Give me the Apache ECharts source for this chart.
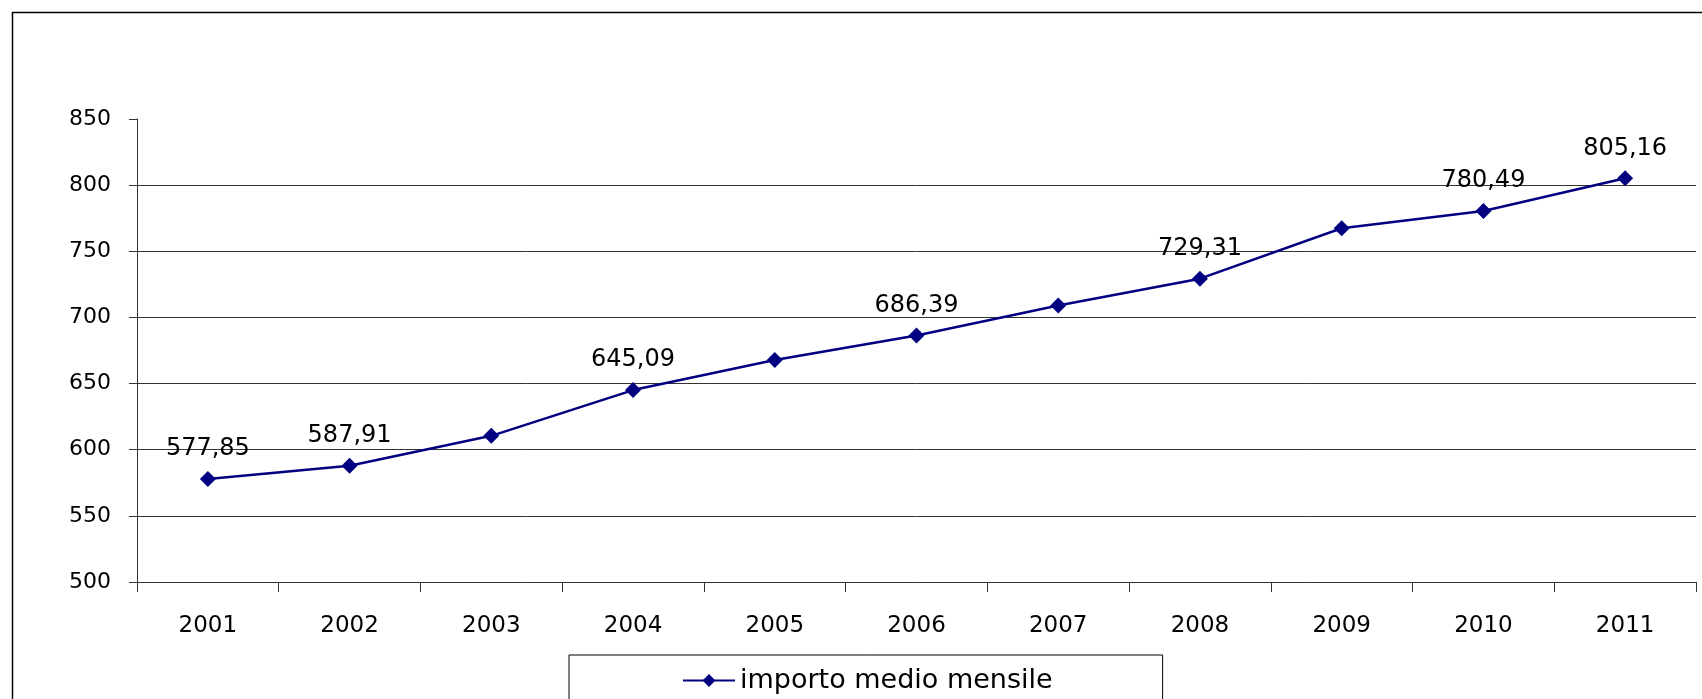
<!DOCTYPE html>
<html>
<head>
<meta charset="utf-8">
<script src="https://cdn.jsdelivr.net/npm/echarts@6/dist/echarts.min.js"></script>
<style>
  html, body { margin: 0; padding: 0; background: #fff; }
  #chart { width: 1702px; height: 699px; }
</style>
</head>
<body>
<div id="chart"></div>
<script>
const years = ['2001', '2002', '2003', '2004', '2005', '2006', '2007', '2008', '2009', '2010', '2011'];
const importo = [577.85, 587.91, 610.5, 645.09, 667.8, 686.39, 709.0, 729.31, 767.4, 780.49, 805.16];
const labelShown = [true, true, false, true, false, true, false, true, false, true, true];
const seriesName = 'importo medio mensile';
const yMin = 500, yMax = 850, yStep = 50;

const FONT = '"DejaVu Sans", "Liberation Sans", Arial, sans-serif';

const chart = echarts.init(document.getElementById('chart'), null, { renderer: 'canvas' });
chart.setOption({
  animation: false,
  backgroundColor: '#ffffff',
  graphic: [{
    type: 'rect',
    silent: true,
    shape: { x: 12.5, y: 12.5, width: 1720, height: 720 },
    style: { fill: 'none', stroke: '#000', lineWidth: 1.5 }
  }],
  grid: { left: 137, right: 6, top: 119, bottom: 117 },
  legend: {
    left: 569,
    top: 655,
    padding: [12, 110, 40, 113],
    borderColor: '#000',
    borderWidth: 1,
    itemWidth: 52,
    itemHeight: 16,
    itemGap: 5,
    textStyle: { fontFamily: FONT, fontSize: 27, color: '#000' },
    data: [seriesName]
  },
  xAxis: {
    type: 'category',
    data: years,
    boundaryGap: true,
    axisLine: { show: true, lineStyle: { color: '#333', width: 1 } },
    axisTick: { show: true, length: 10, lineStyle: { color: '#333' } },
    axisLabel: { margin: 33, fontFamily: FONT, fontSize: 23, color: '#000' },
    splitLine: { show: false }
  },
  yAxis: {
    type: 'value',
    min: yMin,
    max: yMax,
    interval: yStep,
    axisLine: { show: true, lineStyle: { color: '#333', width: 1 } },
    axisTick: { show: true, length: 8, lineStyle: { color: '#333' } },
    axisLabel: { margin: 26, fontFamily: FONT, fontSize: 22, color: '#000' },
    splitLine: { show: true, showMaxLine: false, lineStyle: { color: '#333', width: 1 } }
  },
  series: [{
    name: seriesName,
    type: 'line',
    data: importo.map((v, i) => ({ value: v, label: { show: labelShown[i] } })),
    symbol: 'diamond',
    symbolSize: 16,
    lineStyle: { color: '#000080', width: 2.5 },
    itemStyle: { color: '#000080' },
    label: {
      position: 'top',
      distance: 10,
      fontFamily: FONT,
      fontSize: 24,
      color: '#000',
      formatter: p => p.value.toFixed(2).replace('.', ',')
    }
  }]
});
</script>
</body>
</html>
